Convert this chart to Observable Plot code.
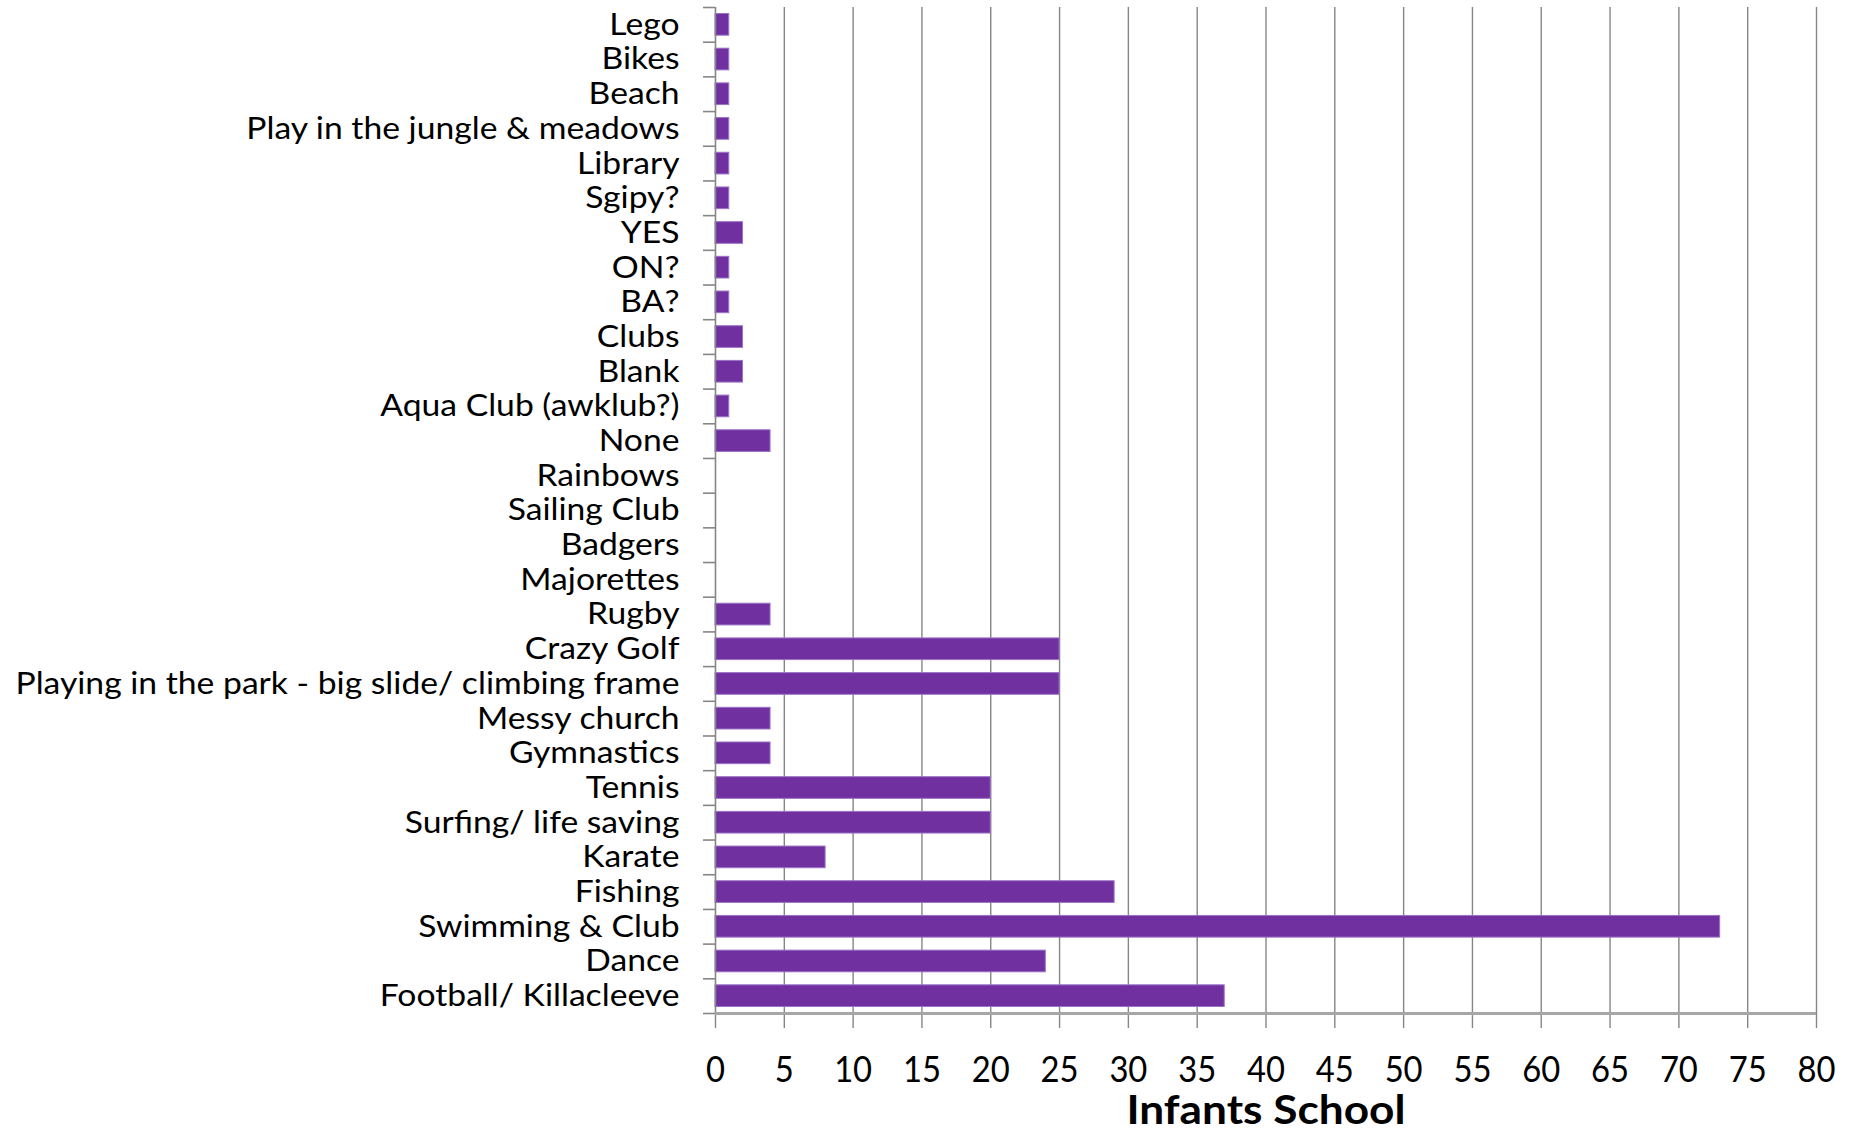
<!DOCTYPE html>
<html>
<head>
<meta charset="utf-8">
<script src="https://cdn.jsdelivr.net/npm/d3@7"></script>
<script src="https://cdn.jsdelivr.net/npm/@observablehq/plot@0.6"></script>
<style>
  html, body { margin: 0; padding: 0; background: #ffffff; }
</style>
</head>
<body>
<div id="chart"></div>
<script>
const categories = [
  "Lego", "Bikes", "Beach", "Play in the jungle & meadows", "Library", "Sgipy?",
  "YES", "ON?", "BA?", "Clubs", "Blank", "Aqua Club (awklub?)", "None",
  "Rainbows", "Sailing Club", "Badgers", "Majorettes", "Rugby", "Crazy Golf",
  "Playing in the park - big slide/ climbing frame", "Messy church", "Gymnastics",
  "Tennis", "Surfing/ life saving", "Karate", "Fishing", "Swimming & Club",
  "Dance", "Football/ Killacleeve"
];
const counts = [
  1, 1, 1, 1, 1, 1,
  2, 1, 1, 2, 2, 1, 4,
  0, 0, 0, 0, 4, 25,
  25, 4, 4,
  20, 20, 8, 29, 73,
  24, 37
];
const xTicks = [0, 5, 10, 15, 20, 25, 30, 35, 40, 45, 50, 55, 60, 65, 70, 75, 80];
const xDomain = [0, 80];
const axisTitle = "Infants School";

const data = categories.map((c, i) => ({activity: c, count: counts[i]}));

const W = 1859, H = 1131;
const mTop = 7, mBottom = 118, mLeft = 715, mRight = 43;
const step = (H - mTop - mBottom) / categories.length;
const gray = "#868686";
const font = "Lato, 'Liberation Sans', sans-serif";
const blank = () => "";

const chart = Plot.plot({
  width: W,
  height: H,
  marginTop: mTop,
  marginBottom: mBottom,
  marginLeft: mLeft,
  marginRight: mRight,
  style: {fontFamily: font, background: "#ffffff", color: "#000"},
  x: {domain: xDomain, ticks: xTicks, label: null},
  y: {domain: categories, paddingInner: 0.375, paddingOuter: 0.1875, align: 0.5, round: false, label: null},
  marks: [
    Plot.gridX(xTicks.slice(1), {stroke: gray, strokeOpacity: 1, strokeWidth: 1.4}),
    Plot.axisX(xTicks, {tickSize: 15, stroke: gray, strokeWidth: 1.4, tickFormat: blank, label: null}),
    Plot.axisX(xTicks, {tickSize: 15, tickPadding: 27, fontSize: 37, fill: "#000", stroke: "none", label: null, className: "xlab"}),
    Plot.barX(data.filter(d => d.count > 0), {
      x: "count", y: "activity", fill: "#7030A0", stroke: "#9c72c8", strokeWidth: 1
    }),
    Plot.ruleX([0], {stroke: gray, strokeWidth: 1.6}),
    Plot.axisY(categories, {tickSize: 12, stroke: gray, strokeWidth: 1.6, dy: -step / 2, tickFormat: blank, label: null}),
    Plot.axisY(categories.slice(-1), {tickSize: 12, stroke: gray, strokeWidth: 1.6, dy: step / 2, tickFormat: blank, label: null}),
    Plot.ruleY(categories.slice(-1), {x1: xDomain[0], x2: xDomain[1], stroke: "#a6a6a6", strokeWidth: 3, dy: step / 2}),
    Plot.axisY(categories, {tickSize: 0, tickPadding: 36, fontSize: 31, fill: "#000", stroke: "none", label: null, className: "ylab"}),
    Plot.text([axisTitle], {
      frameAnchor: "bottom", lineAnchor: "bottom", dy: 110,
      fontSize: 40, fontWeight: "bold", fill: "#000", className: "xtitle"
    })
  ]
});

document.getElementById("chart").appendChild(chart);

// Drop the empty labels of the tick-only axes.
for (const t of Array.from(chart.querySelectorAll("text"))) {
  if (t.textContent === "") t.remove();
}

// Condense text horizontally (the reference uses a narrow face), keeping real text.
function condense(selector, refText, targetWidth) {
  const nodes = Array.from(chart.querySelectorAll(selector));
  if (!nodes.length) return;
  const ref = nodes.find(n => n.textContent === refText) || nodes[0];
  const k = targetWidth / ref.getComputedTextLength();
  for (const n of nodes) {
    const w = n.getComputedTextLength();
    if (w > 0) {
      n.setAttribute("textLength", (w * k).toFixed(2));
      n.setAttribute("lengthAdjust", "spacingAndGlyphs");
    }
  }
}
condense(".ylab text", "Playing in the park - big slide/ climbing frame", 664);
condense(".xlab text", "80", 38);
condense(".xtitle text", axisTitle, 279);
</script>
</body>
</html>
